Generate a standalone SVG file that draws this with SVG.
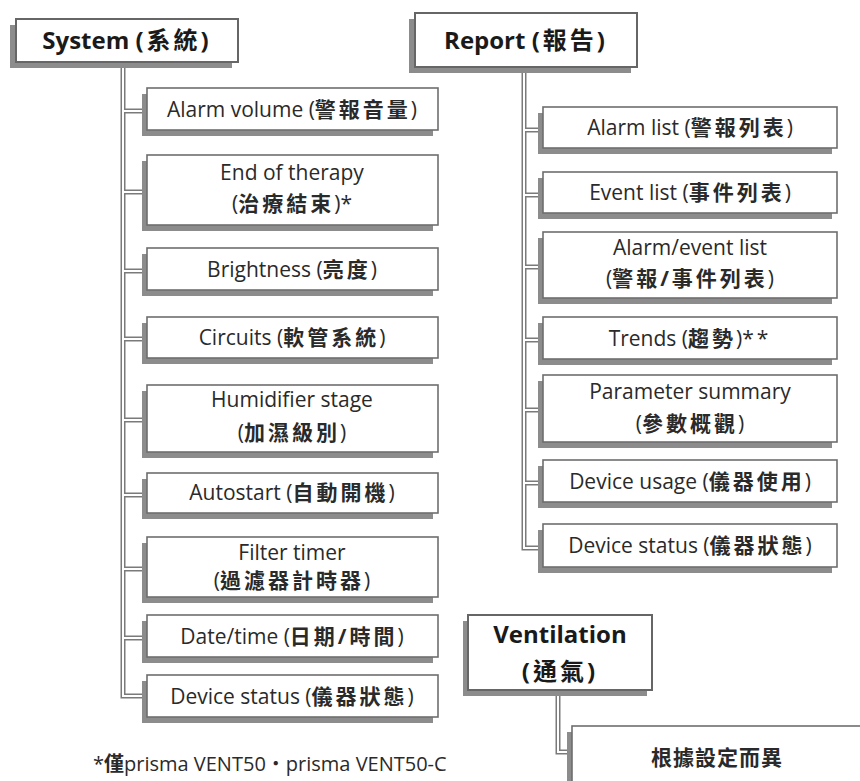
<svg xmlns="http://www.w3.org/2000/svg" xmlns:xlink="http://www.w3.org/1999/xlink" width="860" height="781" viewBox="0 0 860 781">
<style>
.bx{fill:#fff;stroke:#6e6e6e;stroke-width:1.6}
.hb{fill:#fff;stroke:#666;stroke-width:2}
.sh{fill:#8c8c8c}
.t{font-family:"Open Sans","Noto Sans CJK TC",sans-serif;font-size:21px;fill:#2a2a2a;text-anchor:middle}
.h{font-size:24px;font-weight:700;fill:#1a1a1a}
.cj{letter-spacing:3px;font-weight:700}
.c1{fill:none;stroke:#7a7a7a;stroke-width:5}
.c2{fill:none;stroke:#fff;stroke-width:2}
</style>
<defs>
<path id="cp" d="M123,62 V696 H142 M123,111 H142 M123,192 H142 M123,271 H142 M123,339 H142 M123,420 H142 M123,495 H142 M123,569 H142 M123,638 H142 M524,67 V548 H538 M524,130 H538 M524,195 H538 M524,267 H538 M524,340 H538 M524,410 H538 M524,483 H538 M558,690 V752 H567"/>
</defs>
<rect width="860" height="781" fill="#fff"/>
<g id="connectors">
<use xlink:href="#cp" class="c1"/>
<use xlink:href="#cp" class="c2"/>
</g>

<g id="system">
<rect class="sh" x="10" y="25" width="222" height="43"/>
<rect class="hb" x="16" y="19" width="222" height="43"/>
<text class="t h" x="127" y="49">System <tspan class="cj">(系統)</tspan></text>
</g>
<g id="report">
<rect class="sh" x="409" y="19" width="222" height="54"/>
<rect class="hb" x="415" y="13" width="222" height="54"/>
<text class="t h" x="526" y="49">Report <tspan class="cj">(報告)</tspan></text>
</g>
<g id="ventilation">
<rect class="sh" x="463" y="621" width="184" height="75"/>
<rect class="hb" x="468" y="615" width="184" height="75"/>
<text class="t h" x="560" y="643">Ventilation</text>
<text class="t h" x="560" y="680"><tspan class="cj">(通氣)</tspan></text>
</g>

<g id="alarm-volume">
<rect class="sh" x="142" y="94" width="291" height="42"/>
<rect class="bx" x="147" y="88" width="291" height="42"/>
<text class="t" x="292" y="117">Alarm volume (<tspan class="cj">警報音量</tspan>)</text>
</g>
<g id="end-of-therapy">
<rect class="sh" x="142" y="161" width="291" height="70"/>
<rect class="bx" x="147" y="155" width="291" height="70"/>
<text class="t" x="292" y="180">End of therapy</text>
<text class="t" x="292" y="211">(<tspan class="cj">治療結束</tspan>)*</text>
</g>
<g id="brightness">
<rect class="sh" x="142" y="254" width="291" height="42"/>
<rect class="bx" x="147" y="248" width="291" height="42"/>
<text class="t" x="292" y="277">Brightness (<tspan class="cj">亮度</tspan>)</text>
</g>
<g id="circuits">
<rect class="sh" x="142" y="323" width="291" height="41"/>
<rect class="bx" x="147" y="317" width="291" height="41"/>
<text class="t" x="292" y="345">Circuits (<tspan class="cj">軟管系統</tspan>)</text>
</g>
<g id="humidifier-stage">
<rect class="sh" x="142" y="391" width="291" height="67"/>
<rect class="bx" x="147" y="385" width="291" height="67"/>
<text class="t" x="292" y="407">Humidifier stage</text>
<text class="t" x="292" y="440">(<tspan class="cj">加濕級別</tspan>)</text>
</g>
<g id="autostart">
<rect class="sh" x="142" y="479" width="291" height="40"/>
<rect class="bx" x="147" y="473" width="291" height="40"/>
<text class="t" x="292" y="500">Autostart (<tspan class="cj">自動開機</tspan>)</text>
</g>
<g id="filter-timer">
<rect class="sh" x="142" y="543" width="291" height="60"/>
<rect class="bx" x="147" y="537" width="291" height="60"/>
<text class="t" x="292" y="560">Filter timer</text>
<text class="t" x="292" y="588">(<tspan class="cj">過濾器計時器</tspan>)</text>
</g>
<g id="date-time">
<rect class="sh" x="142" y="621" width="291" height="42"/>
<rect class="bx" x="147" y="615" width="291" height="42"/>
<text class="t" x="292" y="644">Date/time (<tspan class="cj">日期/時間</tspan>)</text>
</g>
<g id="device-status-sys">
<rect class="sh" x="142" y="681" width="291" height="42"/>
<rect class="bx" x="147" y="675" width="291" height="42"/>
<text class="t" x="292" y="704">Device status (<tspan class="cj">儀器狀態</tspan>)</text>
</g>

<g id="alarm-list">
<rect class="sh" x="538" y="113" width="294" height="41"/>
<rect class="bx" x="543" y="107" width="294" height="41"/>
<text class="t" x="690" y="135">Alarm list (<tspan class="cj">警報列表</tspan>)</text>
</g>
<g id="event-list">
<rect class="sh" x="538" y="178" width="294" height="41"/>
<rect class="bx" x="543" y="172" width="294" height="41"/>
<text class="t" x="690" y="200">Event list (<tspan class="cj">事件列表</tspan>)</text>
</g>
<g id="alarm-event-list">
<rect class="sh" x="538" y="238" width="294" height="66"/>
<rect class="bx" x="543" y="232" width="294" height="66"/>
<text class="t" x="690" y="255">Alarm/event list</text>
<text class="t" x="690" y="286">(<tspan class="cj">警報/事件列表</tspan>)</text>
</g>
<g id="trends">
<rect class="sh" x="538" y="323" width="294" height="42"/>
<rect class="bx" x="543" y="317" width="294" height="42"/>
<text class="t" x="690" y="346">Trends (<tspan class="cj">趨勢</tspan>)<tspan style="letter-spacing:3px">**</tspan></text>
</g>
<g id="parameter-summary">
<rect class="sh" x="538" y="381" width="294" height="67"/>
<rect class="bx" x="543" y="375" width="294" height="67"/>
<text class="t" x="690" y="399">Parameter summary</text>
<text class="t" x="690" y="431">(<tspan class="cj">參數概觀</tspan>)</text>
</g>
<g id="device-usage">
<rect class="sh" x="538" y="466" width="294" height="42"/>
<rect class="bx" x="543" y="460" width="294" height="42"/>
<text class="t" x="690" y="489">Device usage (<tspan class="cj">儀器使用</tspan>)</text>
</g>
<g id="device-status-rep">
<rect class="sh" x="538" y="530" width="294" height="43"/>
<rect class="bx" x="543" y="524" width="294" height="43"/>
<text class="t" x="690" y="553">Device status (<tspan class="cj">儀器狀態</tspan>)</text>
</g>

<g id="depends-on-settings">
<rect class="sh" x="567" y="732" width="320" height="80"/>
<rect class="bx" x="572" y="726" width="320" height="80"/>
<text class="t" x="717" y="765"><tspan class="cj" style="letter-spacing:1px">根據設定而異</tspan></text>
</g>

<text class="t" x="93" y="771" style="text-anchor:start;font-size:20px">*<tspan font-weight="700">僅</tspan>prisma VENT50・prisma VENT50-C</text>
</svg>
